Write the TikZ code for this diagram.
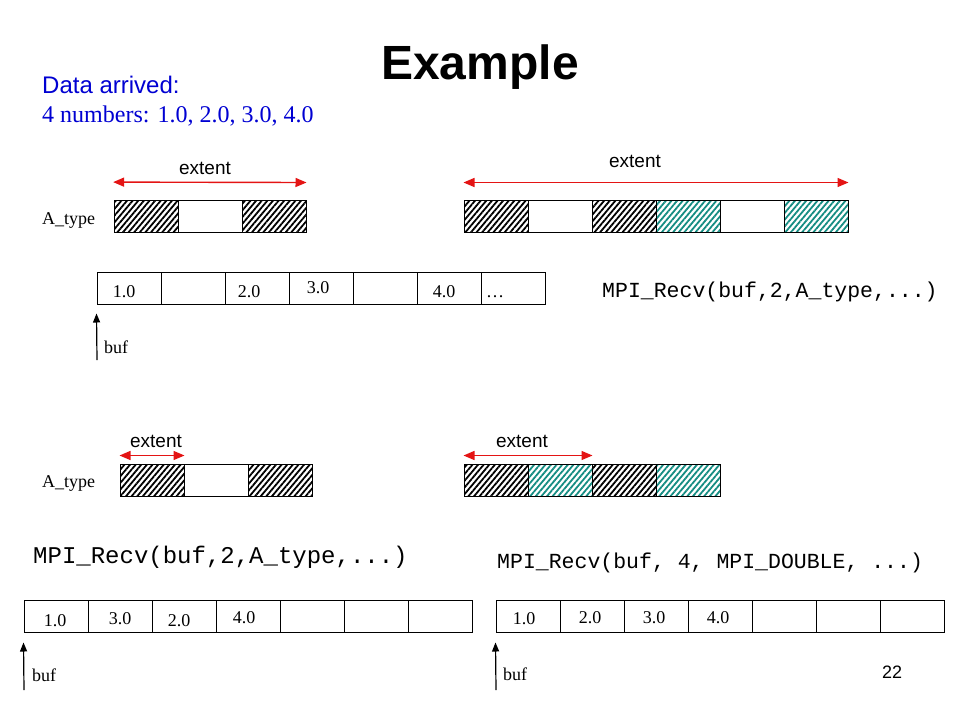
\documentclass[tikz,border=0pt]{standalone}
\usepackage{fontspec}
\setmainfont{Liberation Serif}
\setsansfont{Liberation Sans}
\setmonofont{Liberation Mono}
\usetikzlibrary{arrows.meta,patterns.meta}
\definecolor{hatchteal}{RGB}{20,140,130}
\definecolor{arrivedblue}{RGB}{0,0,210}
\definecolor{extentred}{RGB}{228,20,20}

\begin{document}
\begin{tikzpicture}[x=1pt,y=-1pt]
\tikzstyle{cell} = [rectangle, draw = black, line width = 1pt, minimum width = 64pt, minimum height = 32pt, inner sep = 0pt]
\tikzstyle{blackhatch} = [cell, pattern = {Lines[angle=50, distance=4.3pt, line width=1.8pt]}, pattern color = black]
\tikzstyle{tealhatch} = [cell, pattern = {Lines[angle=50, distance=4.3pt, line width=1.8pt]}, pattern color = hatchteal]
\tikzstyle{value} = [font = \fontsize{18}{20}\selectfont, inner sep = 0pt, anchor = base]
\tikzstyle{typename} = [font = \fontsize{18}{20}\selectfont, inner sep = 0pt, anchor = base west]
\tikzstyle{extenttext} = [font = \sffamily\fontsize{19}{21}\selectfont, inner sep = 0pt, anchor = base]
\tikzstyle{extent} = [{Triangle[length=11pt, width=9pt]}-{Triangle[length=11pt, width=9pt]}, draw = extentred, fill = extentred, line width = 1.4pt]
\tikzstyle{pointer} = [-{Triangle[length=9pt, width=7pt]}, line width = 1.2pt]
\tikzstyle{call} = [font = \ttfamily\fontsize{21.5}{24}\selectfont, inner sep = 0pt, anchor = base west]
\useasboundingbox (0,0) rectangle (960,720);
% -----------------------------------
% Title
\node[font = \sffamily\bfseries\fontsize{48}{52}\selectfont, inner sep = 0pt, anchor = base] (title) at (480,79) {Example};
\node[font = \sffamily\fontsize{24}{26}\selectfont, text = arrivedblue, inner sep = 0pt, anchor = base west] (arrived) at (42,93) {Data arrived:};
\node[font = \fontsize{24}{26}\selectfont, text = arrivedblue, inner sep = 0pt, anchor = base west] (numbers) at (42,122) {4 numbers: 1.0, 2.0, 3.0, 4.0};

% -----------------------------------
% Receive 1: A_type
\node[typename] (tname1) at (42,224) {A\_type};
\node[blackhatch] (ta1) at (146,216) {};
\node[cell] (ta2) at (210,216) {};
\node[blackhatch] (ta3) at (274,216) {};
\draw[extent] ([yshift=17pt]ta1.north west)--([yshift=17pt]ta3.north east);
\node[extenttext] (text1) at (205,174) {extent};

\node[blackhatch] (tb1) at (496,216) {};
\node[cell] (tb2) at (560,216) {};
\node[blackhatch] (tb3) at (624,216) {};
\node[tealhatch] (tb4) at (688,216) {};
\node[cell] (tb5) at (752,216) {};
\node[tealhatch] (tb6) at (816,216) {};
\draw[extent] ([yshift=17pt]tb1.north west)--([yshift=17pt]tb6.north east);
\node[extenttext] (text2) at (635,167) {extent};

\node[cell] (ra1) at (129,288) {};
\node[cell] (ra2) at (193,288) {};
\node[cell] (ra3) at (257,288) {};
\node[cell] (ra4) at (321,288) {};
\node[cell] (ra5) at (385,288) {};
\node[cell] (ra6) at (449,288) {};
\node[cell] (ra7) at (513,288) {};
\node[value] (va1) at (124,297) {1.0};
\node[value] (va2) at (249,297) {2.0};
\node[value] (va3) at (318,293) {3.0};
\node[value] (va4) at (444,297) {4.0};
\node[value] (va5) at (495,297) {\dots};
\node[call] (call1) at (602,297) {MPI\_Recv(buf,2,A\_type,...)};

\coordinate (bufA) at (97,360);
\draw[pointer] (bufA)--([yshift=-9pt]ra1.south west);
\node[typename] (buf1) at (104,353) {buf};

% -----------------------------------
% Receive 2: A_type and MPI_DOUBLE
\node[typename] (tname2) at (42,487) {A\_type};
\node[blackhatch] (ba1) at (152,480) {};
\node[cell] (ba2) at (216,480) {};
\node[blackhatch] (ba3) at (280,480) {};
\draw[extent] ([yshift=8pt]ba1.north west)--([yshift=8pt]ba1.north east);
\node[extenttext] (text3) at (156,447) {extent};

\node[blackhatch] (bb1) at (496,480) {};
\node[tealhatch] (bb2) at (560,480) {};
\node[blackhatch] (bb3) at (624,480) {};
\node[tealhatch] (bb4) at (688,480) {};
\draw[extent] ([yshift=8pt]bb1.north west)--([yshift=8pt]bb2.north east);
\node[extenttext] (text4) at (522,447) {extent};

\node[call, font = \ttfamily\fontsize{24}{26}\selectfont] (call2) at (33,563) {MPI\_Recv(buf,2,A\_type,...)};
\node[call] (call3) at (497,568) {MPI\_Recv(buf, 4, MPI\_DOUBLE, ...)};

\node[cell] (rb1) at (56,616) {};
\node[cell] (rb2) at (120,616) {};
\node[cell] (rb3) at (184,616) {};
\node[cell] (rb4) at (248,616) {};
\node[cell] (rb5) at (312,616) {};
\node[cell] (rb6) at (376,616) {};
\node[cell] (rb7) at (440,616) {};
\node[value] (vb1) at (55,626) {1.0};
\node[value] (vb2) at (120,624) {3.0};
\node[value] (vb3) at (179,626) {2.0};
\node[value] (vb4) at (244,623) {4.0};

\node[cell] (rc1) at (528,616) {};
\node[cell] (rc2) at (592,616) {};
\node[cell] (rc3) at (656,616) {};
\node[cell] (rc4) at (720,616) {};
\node[cell] (rc5) at (784,616) {};
\node[cell] (rc6) at (848,616) {};
\node[cell] (rc7) at (912,616) {};
\node[value] (vc1) at (524,624) {1.0};
\node[value] (vc2) at (590,623) {2.0};
\node[value] (vc3) at (654,623) {3.0};
\node[value] (vc4) at (718,623) {4.0};

\coordinate (bufB) at (24,690);
\coordinate (bufC) at (496,690);
\draw[pointer] (bufB)--([yshift=-10pt]rb1.south west);
\draw[pointer] (bufC)--([yshift=-10pt]rc1.south west);
\node[typename] (buf2) at (32,681) {buf};
\node[typename] (buf3) at (503,680) {buf};
% -----------------------------------
\node[font = \sffamily\fontsize{18}{20}\selectfont, inner sep = 0pt, anchor = base] (page) at (892,678) {22};
\end{tikzpicture}
\end{document}
